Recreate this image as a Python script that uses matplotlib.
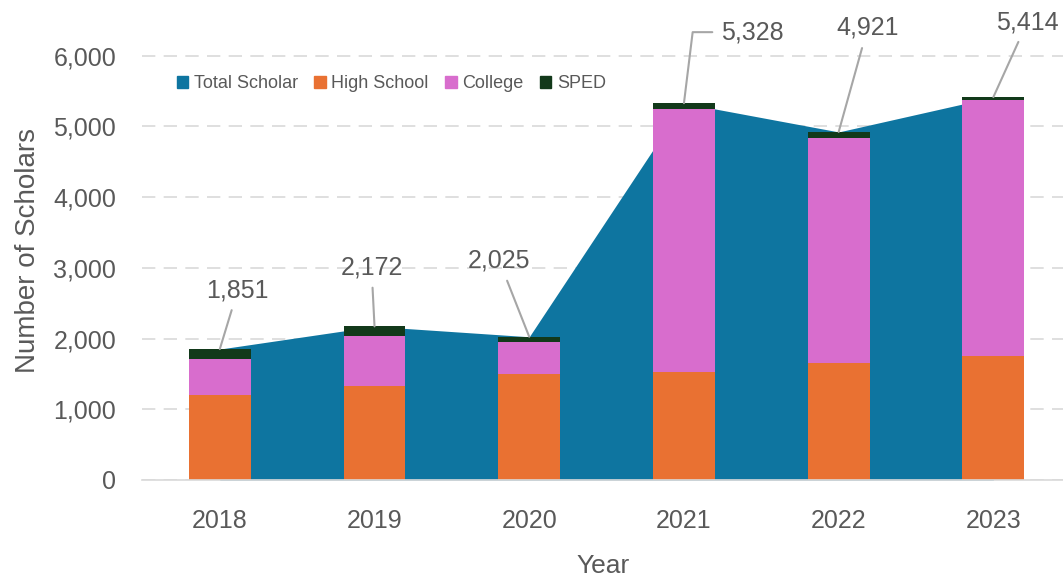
import matplotlib
matplotlib.use("Agg")
import matplotlib.pyplot as plt
from matplotlib.ticker import FuncFormatter
from matplotlib.patches import Patch

years = ["2018", "2019", "2020", "2021", "2022", "2023"]
total_scholar = [1851, 2172, 2025, 5328, 4921, 5414]
high_school = [1200, 1330, 1500, 1530, 1650, 1750]
college = [510, 707, 450, 3720, 3180, 3620]
sped = [141, 135, 75, 78, 91, 44]

c_total = "#0E75A0"
c_hs = "#E97132"
c_col = "#D86DCD"
c_sped = "#12391A"
txt = "#595959"

plt.rcParams['font.family'] = ['Liberation Sans', 'DejaVu Sans']

fig = plt.figure(figsize=(10.63, 5.79), dpi=100)
ax = fig.add_axes([0.134, 0.171, 0.866, 0.794])

x = list(range(len(years)))
ax.fill_between(x, 0, total_scholar, color=c_total, lw=0, zorder=2)
w = 0.4
ax.bar(x, high_school, width=w, color=c_hs, zorder=3)
b2 = [h for h in high_school]
ax.bar(x, college, width=w, bottom=b2, color=c_col, zorder=3)
b3 = [h + c for h, c in zip(high_school, college)]
ax.bar(x, sped, width=w, bottom=b3, color=c_sped, zorder=3)

ax.set_xlim(-0.5, 5.45)
ax.set_ylim(0, 6500)
ax.set_yticks(range(0, 6001, 1000))
ax.yaxis.set_major_formatter(FuncFormatter(lambda v, p: f"{int(v):,}"))
ax.set_xticks(x)
ax.set_xticklabels(years)
ax.tick_params(axis='both', length=0, labelsize=18, colors=txt)
ax.tick_params(axis='x', pad=21)
ax.tick_params(axis='y', pad=19)
ax.grid(axis='y', color='#d9d9d9', linestyle=(0, (8, 5)), lw=1.2, zorder=1)
ax.set_axisbelow(True)
for s in ['top', 'right', 'left']:
    ax.spines[s].set_visible(False)
ax.spines['bottom'].set_color('#d9d9d9')
ax.spines['bottom'].set_linewidth(1.2)
ax.spines['bottom'].set_zorder(4)

ax.set_ylabel("Number of Scholars", fontsize=20, color=txt, labelpad=9)
ax.set_xlabel("Year", fontsize=19, color=txt, labelpad=15)

offsets = [(18, 59), (-3, 59), (-30, 76), (68, 71), (29, 104), (34, 75)]
conns = ["arc3", "arc3", "arc3", "angle,angleA=180,angleB=83,rad=0", "arc3", "arc3"]
relposes = [(0.5, 0.5), (0.5, 0.5), (0.5, 0.5), (0.0, 0.5), (0.5, 0.5), (0.5, 0.5)]
for i, (v, off) in enumerate(zip(total_scholar, offsets)):
    ax.annotate(f"{v:,}", xy=(i, v), xytext=off, textcoords='offset pixels',
                ha='center', va='center', fontsize=18, color=txt,
                annotation_clip=False, zorder=6,
                arrowprops=dict(arrowstyle='-', color='#a6a6a6', lw=1.5,
                                shrinkA=4, shrinkB=0, connectionstyle=conns[i],
                                relpos=relposes[i]))

handles = [Patch(color=c_total), Patch(color=c_hs), Patch(color=c_col), Patch(color=c_sped)]
labels = ["Total Scholar", "High School", "College", "SPED"]
leg = fig.legend(handles, labels, loc='center left', bbox_to_anchor=(0.151, 0.855),
                 ncol=4, frameon=False, handlelength=0.65, handleheight=0.65,
                 handletextpad=0.3, columnspacing=0.9,
                 prop={'family': ['Liberation Sans Narrow', 'Liberation Sans', 'DejaVu Sans'], 'size': 13})
for t in leg.get_texts():
    t.set_color(txt)

fig.savefig("out.png", dpi=100)
